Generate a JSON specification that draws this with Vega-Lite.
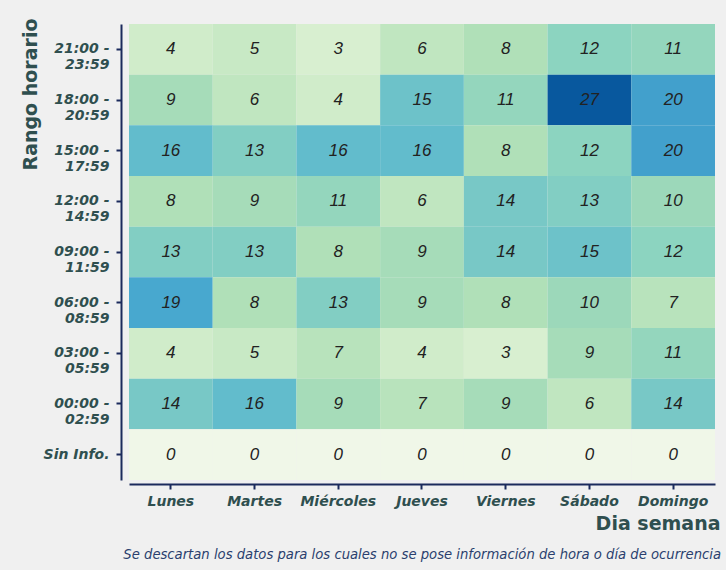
{
  "$schema": "https://vega.github.io/schema/vega-lite/v6.json",
  "width": 586,
  "height": 456,
  "autosize": {"type": "none"},
  "padding": {"left": 129, "top": 24, "right": 11, "bottom": 90},
  "background": "#f0f0f0",
  "title": {
    "text": "Se descartan los datos para los cuales no se pose información de hora o día de ocurrencia",
    "orient": "bottom",
    "anchor": "end",
    "frame": "group",
    "offset": 16,
    "dx": 6,
    "font": "DejaVu Sans",
    "fontStyle": "italic",
    "fontWeight": "normal",
    "fontSize": 13.2,
    "color": "#2a3f6e"
  },
  "config": {
    "view": {"stroke": null},
    "axis": {
      "domainColor": "#1b2a5c",
      "domainWidth": 2,
      "tickColor": "#1b2a5c",
      "tickWidth": 2,
      "tickSize": 5,
      "grid": false,
      "labelFont": "DejaVu Sans",
      "labelFontStyle": "italic",
      "labelFontWeight": "bold",
      "labelFontSize": 14,
      "labelColor": "#2f4f4f",
      "titleFont": "DejaVu Sans",
      "titleFontWeight": "bold",
      "titleFontSize": 19,
      "titleColor": "#2f4f4f"
    }
  },
  "data": {"values": [
    {"rango": "21:00 - 23:59", "dia": "Lunes", "n": 4},
    {"rango": "21:00 - 23:59", "dia": "Martes", "n": 5},
    {"rango": "21:00 - 23:59", "dia": "Miércoles", "n": 3},
    {"rango": "21:00 - 23:59", "dia": "Jueves", "n": 6},
    {"rango": "21:00 - 23:59", "dia": "Viernes", "n": 8},
    {"rango": "21:00 - 23:59", "dia": "Sábado", "n": 12},
    {"rango": "21:00 - 23:59", "dia": "Domingo", "n": 11},
    {"rango": "18:00 - 20:59", "dia": "Lunes", "n": 9},
    {"rango": "18:00 - 20:59", "dia": "Martes", "n": 6},
    {"rango": "18:00 - 20:59", "dia": "Miércoles", "n": 4},
    {"rango": "18:00 - 20:59", "dia": "Jueves", "n": 15},
    {"rango": "18:00 - 20:59", "dia": "Viernes", "n": 11},
    {"rango": "18:00 - 20:59", "dia": "Sábado", "n": 27},
    {"rango": "18:00 - 20:59", "dia": "Domingo", "n": 20},
    {"rango": "15:00 - 17:59", "dia": "Lunes", "n": 16},
    {"rango": "15:00 - 17:59", "dia": "Martes", "n": 13},
    {"rango": "15:00 - 17:59", "dia": "Miércoles", "n": 16},
    {"rango": "15:00 - 17:59", "dia": "Jueves", "n": 16},
    {"rango": "15:00 - 17:59", "dia": "Viernes", "n": 8},
    {"rango": "15:00 - 17:59", "dia": "Sábado", "n": 12},
    {"rango": "15:00 - 17:59", "dia": "Domingo", "n": 20},
    {"rango": "12:00 - 14:59", "dia": "Lunes", "n": 8},
    {"rango": "12:00 - 14:59", "dia": "Martes", "n": 9},
    {"rango": "12:00 - 14:59", "dia": "Miércoles", "n": 11},
    {"rango": "12:00 - 14:59", "dia": "Jueves", "n": 6},
    {"rango": "12:00 - 14:59", "dia": "Viernes", "n": 14},
    {"rango": "12:00 - 14:59", "dia": "Sábado", "n": 13},
    {"rango": "12:00 - 14:59", "dia": "Domingo", "n": 10},
    {"rango": "09:00 - 11:59", "dia": "Lunes", "n": 13},
    {"rango": "09:00 - 11:59", "dia": "Martes", "n": 13},
    {"rango": "09:00 - 11:59", "dia": "Miércoles", "n": 8},
    {"rango": "09:00 - 11:59", "dia": "Jueves", "n": 9},
    {"rango": "09:00 - 11:59", "dia": "Viernes", "n": 14},
    {"rango": "09:00 - 11:59", "dia": "Sábado", "n": 15},
    {"rango": "09:00 - 11:59", "dia": "Domingo", "n": 12},
    {"rango": "06:00 - 08:59", "dia": "Lunes", "n": 19},
    {"rango": "06:00 - 08:59", "dia": "Martes", "n": 8},
    {"rango": "06:00 - 08:59", "dia": "Miércoles", "n": 13},
    {"rango": "06:00 - 08:59", "dia": "Jueves", "n": 9},
    {"rango": "06:00 - 08:59", "dia": "Viernes", "n": 8},
    {"rango": "06:00 - 08:59", "dia": "Sábado", "n": 10},
    {"rango": "06:00 - 08:59", "dia": "Domingo", "n": 7},
    {"rango": "03:00 - 05:59", "dia": "Lunes", "n": 4},
    {"rango": "03:00 - 05:59", "dia": "Martes", "n": 5},
    {"rango": "03:00 - 05:59", "dia": "Miércoles", "n": 7},
    {"rango": "03:00 - 05:59", "dia": "Jueves", "n": 4},
    {"rango": "03:00 - 05:59", "dia": "Viernes", "n": 3},
    {"rango": "03:00 - 05:59", "dia": "Sábado", "n": 9},
    {"rango": "03:00 - 05:59", "dia": "Domingo", "n": 11},
    {"rango": "00:00 - 02:59", "dia": "Lunes", "n": 14},
    {"rango": "00:00 - 02:59", "dia": "Martes", "n": 16},
    {"rango": "00:00 - 02:59", "dia": "Miércoles", "n": 9},
    {"rango": "00:00 - 02:59", "dia": "Jueves", "n": 7},
    {"rango": "00:00 - 02:59", "dia": "Viernes", "n": 9},
    {"rango": "00:00 - 02:59", "dia": "Sábado", "n": 6},
    {"rango": "00:00 - 02:59", "dia": "Domingo", "n": 14},
    {"rango": "Sin Info.", "dia": "Lunes", "n": 0},
    {"rango": "Sin Info.", "dia": "Martes", "n": 0},
    {"rango": "Sin Info.", "dia": "Miércoles", "n": 0},
    {"rango": "Sin Info.", "dia": "Jueves", "n": 0},
    {"rango": "Sin Info.", "dia": "Viernes", "n": 0},
    {"rango": "Sin Info.", "dia": "Sábado", "n": 0},
    {"rango": "Sin Info.", "dia": "Domingo", "n": 0}
  ]},
  "encoding": {
    "x": {
      "field": "dia", "type": "nominal",
      "sort": ["Lunes", "Martes", "Miércoles", "Jueves", "Viernes", "Sábado", "Domingo"],
      "scale": {"paddingInner": 0, "paddingOuter": 0},
      "axis": {
        "title": "Dia semana", "labelAngle": 0, "offset": 4, "labelPadding": 5,
        "titleAlign": "right", "titleAnchor": null, "titleX": 591, "titleY": 45, "titleBaseline": "alphabetic"
      }
    },
    "y": {
      "field": "rango", "type": "nominal",
      "sort": ["21:00 - 23:59", "18:00 - 20:59", "15:00 - 17:59", "12:00 - 14:59", "09:00 - 11:59", "06:00 - 08:59", "03:00 - 05:59", "00:00 - 02:59", "Sin Info."],
      "scale": {"paddingInner": 0, "paddingOuter": 0},
      "axis": {
        "title": "Rango horario", "offset": 8, "labelPadding": 7,
        "labelExpr": "datum.value == 'Sin Info.' ? datum.value : [slice(datum.value, 0, 7), slice(datum.value, 8)]",
        "labelLineHeight": 16,
        "titleAngle": -90, "titleAlign": "right", "titleBaseline": "middle", "titleAnchor": null,
        "titleX": -91, "titleY": -6
      }
    }
  },
  "layer": [
    {
      "mark": {"type": "rect"},
      "encoding": {
        "color": {
          "field": "n", "type": "quantitative",
          "scale": {
            "domain": [0, 3, 4, 6, 8, 10, 12, 14, 16, 19, 20, 27],
            "range": ["#f0f7e8", "#d8efd0", "#d0ecca", "#c0e6c0", "#b0e0b8", "#9cd8ba", "#8cd4c0", "#78c8c6", "#62bccc", "#48a8cf", "#42a0cc", "#08589e"],
            "interpolate": "rgb"
          },
          "legend": null
        }
      }
    },
    {
      "mark": {"type": "text", "font": "Liberation Sans", "fontStyle": "italic", "fontSize": 17, "color": "#222222"},
      "encoding": {"text": {"field": "n", "type": "quantitative"}}
    }
  ]
}
